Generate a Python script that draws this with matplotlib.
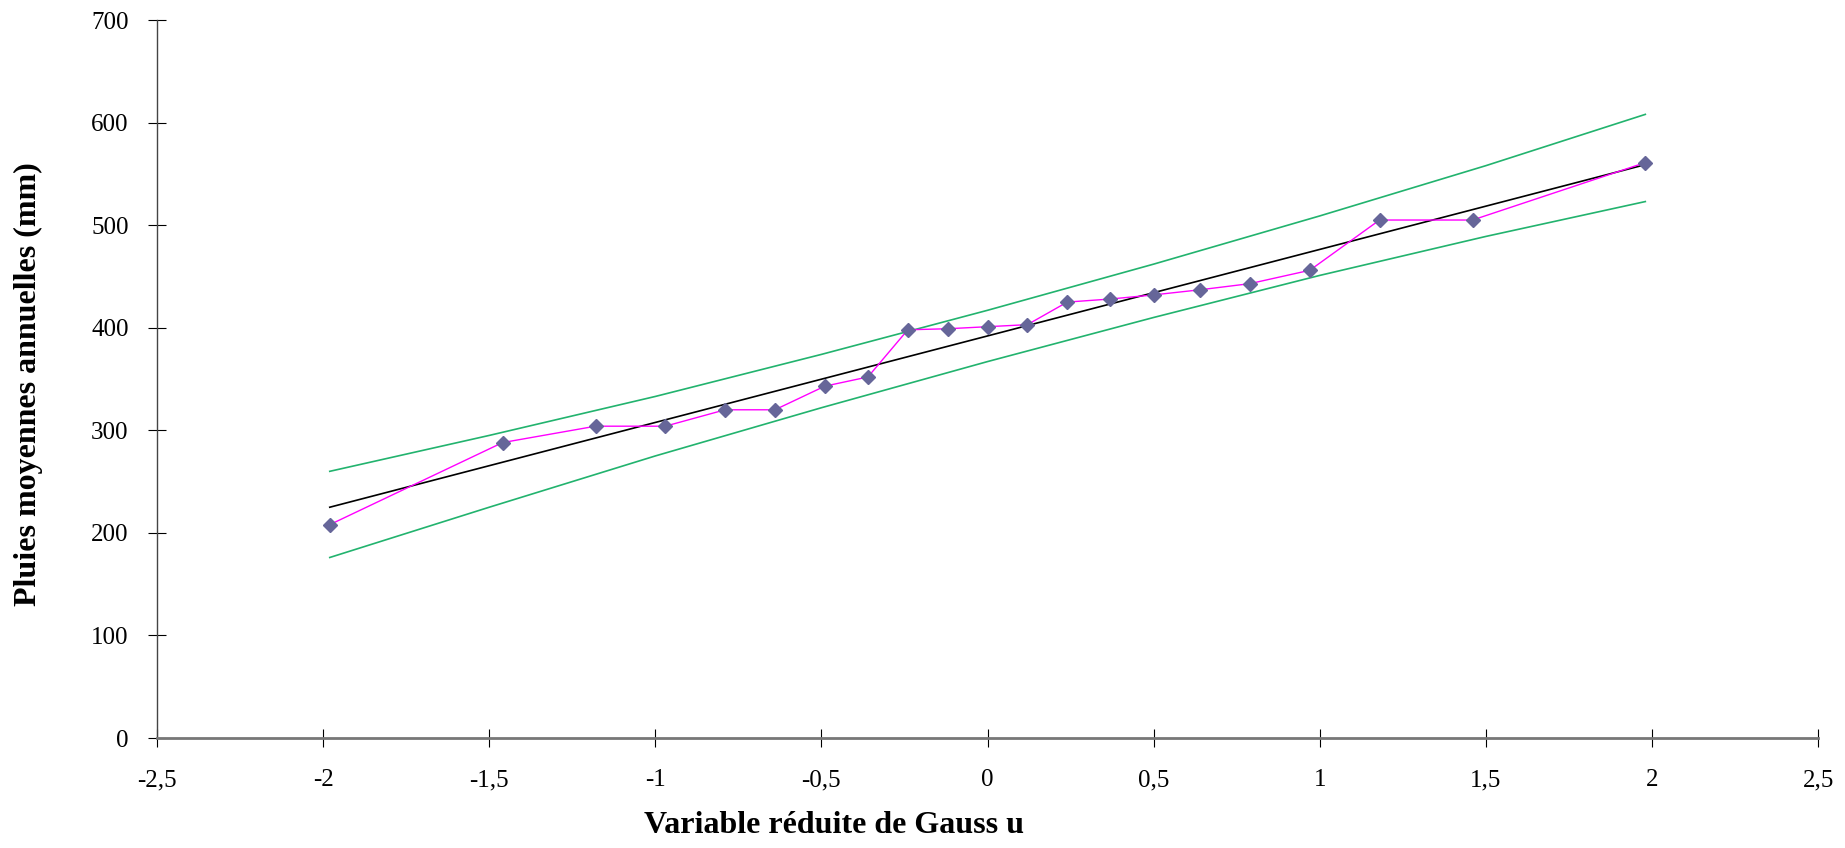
import matplotlib.pyplot as plt

# variable réduite de Gauss et pluies classées
u = [-1.98, -1.46, -1.18, -0.97, -0.79, -0.64, -0.49, -0.36, -0.24, -0.12, 0.0,
     0.12, 0.24, 0.37, 0.50, 0.64, 0.79, 0.97, 1.18, 1.46, 1.98]
pluies = [208, 288, 304, 304, 320, 320, 343, 352, 398, 399, 401,
          403, 425, 428, 432, 437, 443, 456, 505, 505, 561]

# droite de Gauss
droite_u = [-1.98, 1.98]
droite_p = [225, 559]

# intervalle de confiance
ic_u = [-1.98, -1.5, -1.0, -0.5, 0.0, 0.5, 1.0, 1.5, 1.98]
ic_haut = [260, 295, 333, 374, 417, 462, 509, 558, 608]
ic_bas = [176, 225, 275, 322, 367, 410, 451, 489, 523]

x_ticks = [-2.5, -2, -1.5, -1, -0.5, 0, 0.5, 1, 1.5, 2, 2.5]
y_ticks = [0, 100, 200, 300, 400, 500, 600, 700]

plt.rcParams["font.family"] = ["Liberation Serif", "DejaVu Serif"]

fig = plt.figure(figsize=(18.45, 8.48), dpi=100)
ax = fig.add_axes([0.0851, 0.1297, 0.9003, 0.8467])

green = "#22B36E"
ax.plot(ic_u, ic_haut, color=green, lw=1.2)
ax.plot(ic_u, ic_bas, color=green, lw=1.2)
ax.plot(droite_u, droite_p, color="black", lw=1.2)
ax.plot(u, pluies, color="#FF00FF", lw=1.0, marker="D", markersize=7,
        markerfacecolor="#666699", markeredgecolor="#666699", zorder=3)

ax.set_xlim(-2.5, 2.5)
ax.set_ylim(0, 700)
ax.set_xticks(x_ticks)
ax.set_xticklabels([("%g" % v).replace(".", ",") for v in x_ticks])
ax.set_yticks(y_ticks)

for s in ["top", "right"]:
    ax.spines[s].set_visible(False)
ax.spines["left"].set_color("#444444")
ax.spines["left"].set_linewidth(1.0)
ax.spines["bottom"].set_color("#777777")
ax.spines["bottom"].set_linewidth(2.0)

ax.tick_params(axis="both", direction="inout", length=13, width=0.8,
               colors="black", labelsize=18)
ax.tick_params(axis="x", pad=16)
ax.tick_params(axis="y", pad=14)

fig.text(0.452, 0.0177, "Variable réduite de Gauss u", ha="center", va="baseline",
         fontsize=23, fontweight="bold")
fig.text(0.0155, 0.547, "Pluies moyennes annuelles (mm)", ha="center", va="center",
         rotation=90, fontsize=23, fontweight="bold")

fig.savefig("out.png", dpi=100)
